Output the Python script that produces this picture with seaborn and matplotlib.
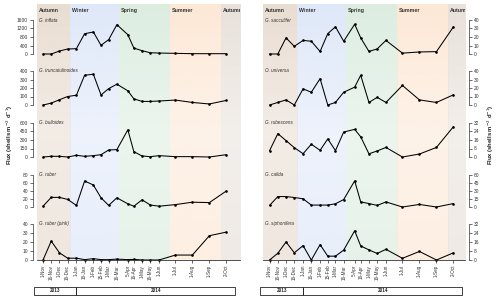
import numpy as np
import pandas as pd
import matplotlib
matplotlib.use("Agg")
import matplotlib.pyplot as plt
import matplotlib.transforms as mtransforms
import matplotlib.colors as mcolors
from matplotlib.patches import Rectangle
import seaborn as sns

sns.set_theme(style="white")
plt.rcParams['font.family'] = ['Liberation Sans', 'DejaVu Sans']

# sampling dates (cup opening dates) and tick labels
dates = ["2013-11-01", "2013-11-16", "2013-12-01", "2013-12-16", "2014-01-01",
         "2014-01-16", "2014-02-01", "2014-02-15", "2014-03-01", "2014-03-16",
         "2014-04-05", "2014-04-16", "2014-05-01", "2014-05-16", "2014-06-01",
         "2014-07-01", "2014-08-01", "2014-09-01", "2014-10-02"]
date_labels = ["1-Nov", "16-Nov", "1-Dec", "16-Dec", "1-Jan", "16-Jan", "1-Feb",
               "15-Feb", "1-Mar", "16-Mar", "5-Apr", "16-Apr", "1-May", "16-May",
               "1-Jun", "1-Jul", "1-Aug", "1-Sep", "2-Oct"]

# left column species (flux, shells m-2 d-1)
g_inflata = [0, 0, 140, 235, 250, 955, 1035, 410, 675, 1380, 910, 280, 155, 60, 45, 30, 15, 15, 15]
g_truncatulinoides = [0, 22, 62, 100, 115, 350, 362, 118, 193, 245, 167, 73, 42, 42, 47, 58, 30, 12, 54]
g_bulloides = [0, 12, 12, 0, 30, 12, 24, 41, 124, 130, 480, 94, 18, 6, 24, 6, 6, 0, 41]
g_ruber = [2, 24, 24, 19, 4, 65, 55, 23, 4, 23, 8, 2, 18, 5, 2, 6, 12, 11, 40]
g_ruber_pink = [0, 21, 8, 2, 2, 0.4, 1.5, 0.4, 0.4, 1, 0.4, 0.7, 0, 0, 0, 5.5, 5.5, 27, 31]

# right column species
g_sacculifer = [0, 0, 19, 9, 16, 15, 3, 24, 32, 15, 35, 19, 3, 6, 16, 1, 2.4, 2.8, 32]
o_universa = [0, 3, 6, 0, 19, 15, 31, 0, 3, 15, 21, 35, 3, 9, 3, 23, 6, 3, 12]
g_rubescens = [6, 22, 15.4, 8.8, 3.1, 12, 6.3, 17, 6, 23.5, 26, 19, 3, 5.7, 9, 0, 2.8, 9, 28.6]
g_calida = [3, 19.6, 19.6, 17.8, 15.4, 3.6, 3.6, 3.6, 6, 14, 49, 9.5, 6.5, 3, 9.5, 0, 4.8, 0, 6.5]
g_siphonifera = [0, 6, 16, 6.4, 12.8, 0, 13.7, 3.4, 3.4, 8.8, 26, 12.5, 9, 5.8, 9.5, 1.5, 7.6, 0, 6.4]

left_names = ["G. inflata", "G. truncatulinoides", "G. bulloides", "G. ruber", "G. ruber (pink)"]
left_series = [g_inflata, g_truncatulinoides, g_bulloides, g_ruber, g_ruber_pink]
left_ticks = [[0, 400, 800, 1200, 1600], [0, 100, 200, 300, 400], [0, 150, 300, 450, 600],
              [0, 20, 40, 60, 80], [0, 10, 20, 30, 40]]

right_names = ["G. sacculifer", "O. universa", "G. rubescens", "G. calida", "G. siphonifera"]
right_series = [g_sacculifer, o_universa, g_rubescens, g_calida, g_siphonifera]
right_ticks = [[0, 10, 20, 30, 40], [0, 10, 20, 30, 40], [0, 8, 16, 24, 32],
               [0, 15, 30, 45, 60], [0, 8, 16, 24, 32]]

seasons = ["Autumn", "Winter", "Spring", "Summer", "Autumn"]
season_edges = ["2013-09-22", "2013-12-21", "2014-03-20", "2014-06-21", "2014-09-22", "2014-12-21"]
season_colors = ["#e9ddd1", "#dfe8f9", "#dcede0", "#fde8d6", "#e8e1da"]

years = ["2013", "2014"]
year_edges = ["2013-10-15", "2014-01-01", "2014-10-18"]

W, H = 500, 299
fig = plt.figure(figsize=(W / 100, H / 100), dpi=100)


def rect(x0, ytop, x1, ybot):
    return [x0 / W, 1 - ybot / H, (x1 - x0) / W, (ybot - ytop) / H]


panel_rows = [(20, 54), (71, 105), (123, 157), (175, 207), (224, 260)]
x_dates = pd.to_datetime(dates)

# vertical fade of the season shading: strong at top, paler below
fade = np.interp(np.linspace(0, 1, 200), [0, 0.15, 0.5, 1], [1.0, 0.85, 0.55, 0.7])


def draw_column(x0, x1, xlim, names, series, ticks, right_side):
    xlim = [pd.Timestamp(v) for v in xlim]
    bg = fig.add_axes(rect(x0, 4, x1, 260))
    edges = pd.to_datetime(season_edges)
    en = matplotlib.dates.date2num(edges)
    for i, (s, c) in enumerate(zip(seasons, season_colors)):
        rgba = np.zeros((200, 1, 4))
        rgba[:, 0, :3] = mcolors.to_rgb(c)
        rgba[:, 0, 3] = fade
        bg.imshow(rgba, extent=(en[i], en[i + 1], 0, 1), aspect='auto', origin='upper',
                  interpolation='bilinear')
        tx = max(edges[i], xlim[0]) + pd.Timedelta(days=3)
        bg.text(tx, 0.985, s, fontsize=3.8, fontweight='bold', color='#333333',
                va='top', ha='left', transform=mtransforms.blended_transform_factory(bg.transData, bg.transAxes),
                clip_on=True)
    bg.set_xlim(xlim)
    bg.set_ylim(0, 1)
    bg.axis('off')

    axes = []
    for k, (name, vals, tk) in enumerate(zip(names, series, ticks)):
        ytop, ybot = panel_rows[k]
        ax = fig.add_axes(rect(x0, ytop, x1, ybot))
        ax.patch.set_alpha(0)
        df = pd.DataFrame({"date": x_dates, "flux": vals})
        sns.lineplot(data=df, x="date", y="flux", ax=ax, color='black', lw=0.75,
                     marker='o', markersize=1.9, markeredgewidth=0, clip_on=False)
        ax.set_xlim(xlim)
        ax.set_ylim(0, tk[-1])
        ax.set_yticks(tk)
        ax.set_yticklabels([str(t) for t in tk], fontsize=3.5, color='#333333')
        ax.set_xlabel("")
        ax.set_ylabel("")
        for sp in ["top", "right", "left", "bottom"]:
            ax.spines[sp].set_visible(False)
        side = "right" if right_side else "left"
        ax.spines[side].set_visible(True)
        ax.spines[side].set_position(('outward', 3))
        ax.spines[side].set_bounds(0, tk[-1])
        ax.spines[side].set_linewidth(0.5)
        ax.spines[side].set_color('#333333')
        if right_side:
            ax.yaxis.tick_right()
        ax.tick_params(axis='y', length=2, width=0.5, pad=1.5, colors='#333333', labelsize=3.5,
                       left=not right_side, right=right_side,
                       labelleft=not right_side, labelright=right_side)
        ax.text(pd.Timestamp(xlim[0]) + pd.Timedelta(days=3), tk[-1], name, fontsize=3.3,
                style='italic', color='#333333', va='center', ha='left')
        if k == len(names) - 1:
            ax.spines["bottom"].set_visible(True)
            ax.spines["bottom"].set_linewidth(0.6)
            ax.spines["bottom"].set_color('#333333')
            ax.set_xticks(x_dates)
            ax.set_xticklabels(date_labels, rotation=90, fontsize=3.3, color='#333333')
            ax.tick_params(axis='x', length=2, width=0.5, pad=1.5, bottom=True)
        else:
            ax.set_xticks([])
        axes.append(ax)

    # year boxes under the date axis
    last = axes[-1]
    tr = mtransforms.blended_transform_factory(last.transData, fig.transFigure)
    ye = [matplotlib.dates.date2num(pd.Timestamp(v)) for v in year_edges]
    y0, y1 = 1 - 295 / H, 1 - 287 / H
    for i, yr in enumerate(years):
        last.add_patch(Rectangle((ye[i], y0), ye[i + 1] - ye[i], y1 - y0, transform=tr,
                                 fill=False, lw=0.6, edgecolor='#222222', clip_on=False))
        last.text((ye[i] + ye[i + 1]) / 2, (y0 + y1) / 2, yr, transform=tr, fontsize=3.3,
                  fontweight='bold', ha='center', va='center', color='#222222')
    return axes


draw_column(37, 240, ("2013-10-21", "2014-10-27"), left_names, left_series, left_ticks, False)
draw_column(263, 465, ("2013-10-20", "2014-10-23"), right_names, right_series, right_ticks, True)

ylab = r"Flux (shells m$^{-2}$ d$^{-1}$)"
fig.text(10 / W, 1 - 135 / H, ylab, rotation=90, fontsize=4.2, fontweight='bold',
         ha='center', va='center', color='#222222')
fig.text(491 / W, 1 - 135 / H, ylab, rotation=90, fontsize=4.2, fontweight='bold',
         ha='center', va='center', color='#222222')

fig.savefig("out.png", dpi=100)
